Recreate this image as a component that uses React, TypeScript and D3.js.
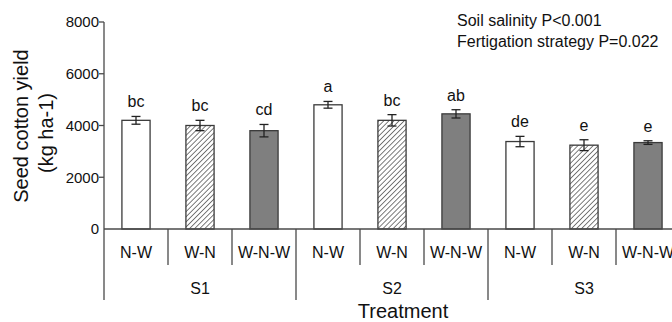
import * as d3 from 'd3';

// data
const salinity = ['S1', 'S2', 'S3'];
const strategies = ['N-W', 'W-N', 'W-N-W'];
const yields = [4200, 4000, 3800, 4800, 4200, 4450, 3380, 3240, 3340];
const errors = [150, 200, 240, 130, 220, 160, 200, 210, 70];
const letters = ['bc', 'bc', 'cd', 'a', 'bc', 'ab', 'de', 'e', 'e'];
const yTicks = [0, 2000, 4000, 6000, 8000];
const notes = ['Soil salinity P<0.001', 'Fertigation strategy P=0.022'];

const W = 672;
const H = 322;
const left = 104;
const right = 680;
const base = 229;
const top = 22;
const font = '"Liberation Sans", Arial, sans-serif';
const axisColor = '#4a4a4a';
const barStroke = '#3a3a3a';
const fills = ['#ffffff', 'url(#hatch)', '#7f7f7f'];

const App = () => {
    const cells = salinity.flatMap((s, i) => strategies.map((t, j) => ({ s, t, j, k: i * 3 + j })));

    const x = d3.scaleBand<number>()
        .domain(d3.range(cells.length))
        .range([left, right])
        .paddingInner(0.56)
        .paddingOuter(0.28);
    const step = x.step();
    const y = d3.scaleLinear().domain([0, 8000]).range([base, top]);

    return (
        <svg width={W} height={H} style={{ position: 'absolute', left: 0, top: 0 }} fontFamily={font}>
            <defs>
                <pattern id="hatch" width="3.6" height="3.6" patternUnits="userSpaceOnUse" patternTransform="rotate(45)">
                    <rect width="3.6" height="3.6" fill="#fff" />
                    <line x1="0" y1="0" x2="0" y2="3.6" stroke="#444" strokeWidth="1.4" />
                </pattern>
            </defs>

            {/* y axis */}
            <line x1={left} x2={left} y1={y(8000)} y2={base} stroke={axisColor} strokeWidth={1.3} />
            {yTicks.map(t => (
                <g key={t}>
                    {t > 0 && <line x1={left - 5} x2={left} y1={y(t)} y2={y(t)} stroke={axisColor} strokeWidth={1.3} />}
                    <text x={left - 5} y={y(t)} dy="0.36em" textAnchor="end" fontSize={15} fill="#111">{t}</text>
                </g>
            ))}
            <text transform={`translate(28,126) rotate(-90)`} textAnchor="middle" fontSize={20} fill="#111">Seed cotton yield</text>
            <text transform={`translate(53,133) rotate(-90)`} textAnchor="middle" fontSize={20} fill="#111">(kg ha-1)</text>

            {/* bars */}
            {cells.map(c => {
                const v = yields[c.k];
                const e = errors[c.k];
                const bx = x(c.k)!;
                const cx = bx + x.bandwidth() / 2;
                return (
                    <g key={c.k}>
                        <rect x={bx} y={y(v)} width={x.bandwidth()} height={base - y(v)}
                            fill={fills[c.j]} stroke={barStroke} strokeWidth={1.3} />
                        <line x1={cx} x2={cx} y1={y(v + e)} y2={y(v - e)} stroke="#222" strokeWidth={1.3} />
                        <line x1={cx - 4.5} x2={cx + 4.5} y1={y(v + e)} y2={y(v + e)} stroke="#222" strokeWidth={1.3} />
                        <line x1={cx - 4.5} x2={cx + 4.5} y1={y(v - e)} y2={y(v - e)} stroke="#222" strokeWidth={1.3} />
                        <text x={cx} y={y(v + e) - 9} textAnchor="middle" fontSize={16} fill="#111">{letters[c.k]}</text>
                    </g>
                );
            })}

            {/* x axis with two label rows */}
            <line x1={left} x2={right} y1={base} y2={base} stroke={axisColor} strokeWidth={1.3} />
            {d3.range(cells.length + 1).map(i => {
                const xx = left + i * step;
                const isGroup = i % 3 === 0;
                return <line key={i} x1={xx} x2={xx} y1={base} y2={isGroup ? 300 : 265} stroke={axisColor} strokeWidth={1.3} />;
            })}
            {cells.map(c => (
                <text key={c.k} x={left + (c.k + 0.5) * step} y={258} textAnchor="middle" fontSize={16} fill="#111">{c.t}</text>
            ))}
            {salinity.map((s, i) => (
                <text key={s} x={left + (i * 3 + 1.5) * step} y={293.5} textAnchor="middle" fontSize={16} fill="#111">{s}</text>
            ))}
            <text x={403} y={318} textAnchor="middle" fontSize={20} fill="#111">Treatment</text>

            {notes.map((n, i) => (
                <text key={n} x={457} y={26 + i * 20.7} fontSize={16} fill="#111">{n}</text>
            ))}
        </svg>
    );
};

export default App;
